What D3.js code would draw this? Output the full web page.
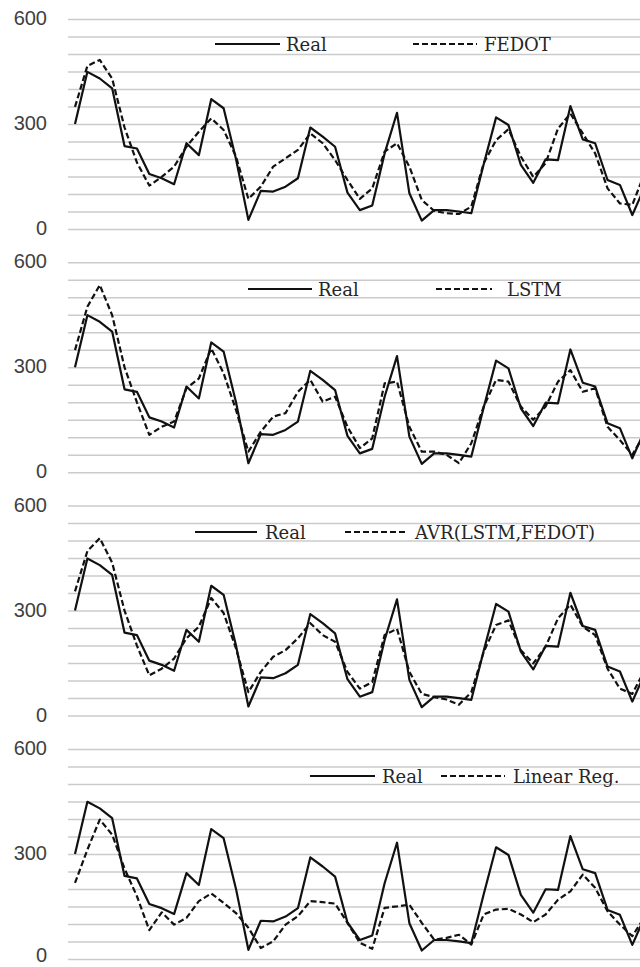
<!DOCTYPE html>
<html>
<head>
<meta charset="utf-8">
<script src="https://cdn.jsdelivr.net/npm/d3@7"></script>
<style>
  body { margin: 0; background: #fff; }
  svg { display: block; }
</style>
</head>
<body>
<script>
// values, one point per step (index 0..46)
const real = [300, 449, 430, 402, 237, 230, 157, 145, 128, 245, 211, 371, 345, 200, 26, 109, 107, 121, 145, 290,
  264, 235, 104, 54, 67, 216, 332, 102, 24, 54, 54, 50, 45, 185, 319, 297, 183, 132, 199, 197,
  351, 256, 245, 140, 126, 40, 120]
const fedot = [349, 466, 483, 430, 290, 190, 124, 149, 178, 235, 278, 316, 283, 207, 86, 121, 178, 202, 226, 273,
  245, 197, 140, 86, 116, 221, 245, 178, 83, 52, 45, 43, 64, 188, 254, 285, 207, 149, 188, 287,
  330, 273, 216, 116, 73, 69, 160]
const lstm = [349, 473, 535, 449, 300, 200, 107, 130, 145, 240, 268, 354, 283, 178, 59, 116, 159, 169, 230, 264,
  202, 216, 130, 69, 97, 254, 259, 130, 59, 59, 50, 26, 83, 188, 264, 259, 188, 150, 188, 259,
  292, 230, 240, 130, 92, 50, 110]
const avr = [355, 470, 507, 437, 300, 200, 115, 134, 163, 221, 254, 336, 293, 192, 67, 125, 168, 187, 221, 264,
  230, 211, 125, 77, 96, 230, 248, 125, 62, 53, 46, 31, 67, 182, 259, 272, 187, 149, 197, 278,
  317, 254, 230, 134, 77, 62, 130]
const linreg = [217, 312, 398, 355, 258, 179, 82, 133, 98, 117, 165, 187, 160, 131, 89, 31, 50, 98, 122, 165,
  162, 158, 103, 46, 29, 146, 150, 155, 103, 55, 60, 69, 41, 127, 141, 143, 127, 105, 127, 169,
  193, 241, 203, 136, 98, 65, 120]

const modelNames = ['FEDOT', 'LSTM', 'AVR(LSTM,FEDOT)', 'Linear Reg.']
const modelSeries = [fedot, lstm, avr, linreg]
const yLabels = [0, 300, 600]
const gridValues = d3.range(0, 601, 50)

// legend placement per panel (px)
const legendPos = [
  {cy: 44, r: [215, 280, 286], m: [413, 477, 484]},
  {cy: 289, r: [248, 312, 318], m: [436, 492, 507]},
  {cy: 532, r: [195, 257, 265], m: [345, 408, 415]},
  {cy: 776, r: [310, 375, 382], m: [441, 505, 513]}
]

const W = 640, H = 967
const svg = d3.select('body').append('svg')
  .attr('width', W)
  .attr('height', H)

const x = d3.scaleLinear().domain([0, 46]).range([75, 644.7])

modelSeries.forEach(function(model, p) {
  let zeroY = 229 + 243.3 * p
  let y = d3.scaleLinear().domain([0, 600]).range([zeroY, zeroY - 210])
  let g = svg.append('g')

  // gridlines
  g.append('g')
    .attr('transform', 'translate(68,0)')
    .call(d3.axisLeft(y).tickValues(gridValues).tickSize(-(W - 68)).tickFormat(''))
    .call(s => s.select('.domain').remove())
    .call(s => s.selectAll('line').attr('stroke', '#cbcbcb').attr('stroke-width', 1.5))

  // y labels (last "0" nudged up so it stays inside the page)
  g.append('g')
    .attr('transform', 'translate(68,0)')
    .call(d3.axisLeft(y).tickValues(yLabels).tickSize(0).tickPadding(21))
    .call(s => s.select('.domain').remove())
    .call(s => s.selectAll('text')
      .attr('dy', d => (p == 3 && d == 0) ? '0.12em' : '0.27em')
      .attr('font-family', '"Liberation Sans", Arial, sans-serif')
      .attr('font-size', 20)
      .attr('fill', '#404040'))

  let line = d3.line()
    .x((d, i) => x(i))
    .y(d => y(d))

  g.append('path')
    .datum(real)
    .attr('d', line)
    .attr('fill', 'none')
    .attr('stroke', '#111')
    .attr('stroke-width', 2.2)
    .attr('stroke-linejoin', 'round')

  g.append('path')
    .datum(model)
    .attr('d', line)
    .attr('fill', 'none')
    .attr('stroke', '#111')
    .attr('stroke-width', 2.2)
    .attr('stroke-dasharray', '6,3')
    .attr('stroke-linejoin', 'round')

  // legend
  let lg = legendPos[p]
  g.append('line')
    .attr('x1', lg.r[0]).attr('x2', lg.r[1])
    .attr('y1', lg.cy).attr('y2', lg.cy)
    .attr('stroke', '#111').attr('stroke-width', 2.2)
  g.append('text')
    .attr('x', lg.r[2]).attr('y', lg.cy + 6.5)
    .attr('font-family', '"DejaVu Serif", serif')
    .attr('font-size', 18)
    .attr('fill', '#262626')
    .text('Real')
  g.append('line')
    .attr('x1', lg.m[0]).attr('x2', lg.m[1])
    .attr('y1', lg.cy).attr('y2', lg.cy)
    .attr('stroke', '#111').attr('stroke-width', 2.2)
    .attr('stroke-dasharray', '6,3')
  g.append('text')
    .attr('x', lg.m[2]).attr('y', lg.cy + 6.5)
    .attr('font-family', '"DejaVu Serif", serif')
    .attr('font-size', 18)
    .attr('fill', '#262626')
    .text(modelNames[p])
})
</script>
</body>
</html>
